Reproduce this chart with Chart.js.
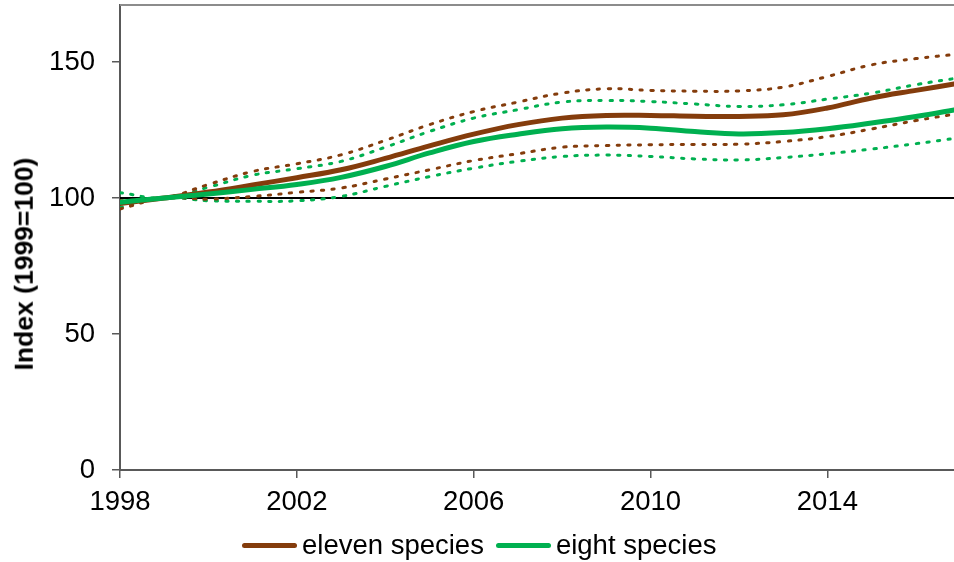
<!DOCTYPE html>
<html>
<head>
<meta charset="utf-8">
<script src="https://cdn.jsdelivr.net/npm/chart.js@4.4.1/dist/chart.umd.min.js"></script>
<style>
  html, body { margin: 0; padding: 0; background: #fff; overflow: hidden; width: 954px; height: 562px; }
  #wrap { position: relative; width: 960px; height: 562px; }
  canvas { display: block; }
  #ytitle {
    position: absolute; left: 24px; top: 264px;
    transform: translate(-50%, -50%) rotate(-90deg);
    font: bold 26.5px "Liberation Sans", Arial, sans-serif;
    line-height: 1; white-space: nowrap; color: #000;
  }
  #legend {
    position: absolute; left: 242px; top: 530px; height: 30px;
    display: flex; align-items: center;
    font: 27.5px "Liberation Sans", Arial, sans-serif; color: #000; line-height: 1;
  }
  #legend .item { display: flex; align-items: center; margin-right: 12px; }
  #legend .swatch { display: inline-block; width: 55px; height: 5px; border-radius: 2.5px; margin-right: 5px; }
</style>
</head>
<body>
<div id="wrap">
  <canvas id="chart" width="960" height="562"></canvas>
  <div id="ytitle"></div>
  <div id="legend"></div>
</div>
<script>
// Annual index values, 1999 = 100
const years = [1998, 1999, 2000, 2001, 2002, 2003, 2004, 2005, 2006, 2007,
               2008, 2009, 2010, 2011, 2012, 2013, 2014, 2015, 2016, 2017];

const elevenIndex = [98.0, 100, 102.2, 104.8, 107.5, 110.4, 114.6, 119.2, 123.5, 127.0,
                     129.4, 130.4, 130.4, 130.1, 130.0, 130.6, 133.1, 136.8, 139.6, 142.3];
const elevenUpper = [99.0, 100, 105.0, 109.8, 112.6, 115.9, 121.2, 127.0, 131.8, 135.3,
                     138.6, 140.2, 139.6, 139.3, 139.4, 140.8, 144.7, 149.0, 151.3, 153.0];
const elevenLower = [96.0, 100, 99.6, 100.6, 102.1, 103.7, 107.0, 110.4, 113.8, 116.3,
                     118.7, 119.3, 119.6, 119.7, 119.8, 120.8, 122.6, 125.4, 128.5, 131.2];

const eightIndex = [98.5, 100, 101.5, 103.2, 105.0, 107.6, 111.6, 116.6, 120.8, 123.5,
                    125.5, 126.1, 125.7, 124.5, 123.6, 124.1, 125.5, 127.6, 130.0, 132.8];
const eightUpper = [102.0, 100, 104.0, 108.4, 110.8, 113.5, 118.7, 124.5, 129.4, 132.5,
                    135.3, 135.9, 135.5, 134.6, 133.7, 134.3, 136.4, 138.6, 141.7, 144.3];
const eightLower = [96.5, 100, 99.0, 98.8, 99.0, 100.6, 104.3, 107.9, 111.0, 113.5,
                    115.3, 115.8, 115.3, 114.4, 114.0, 114.9, 116.3, 118.0, 120.0, 122.2];

const baseYear = 100;

const xTicks = [1998, 2002, 2006, 2010, 2014];
const yTicks = [0, 50, 100, 150];

const seriesNames = ['eleven species', 'eight species'];
const yTitle = 'Index (1999=100)';

const BROWN = '#843C0C';
const GREEN = '#00B050';
const FONT = '"Liberation Sans", Arial, sans-serif';

const pts = vals => years.map((y, i) => ({ x: y, y: vals[i] }));

const mainLine = (label, vals, color) => ({
  label, data: pts(vals), borderColor: color, backgroundColor: color,
  borderWidth: 5, tension: 0.4, borderCapStyle: 'round', borderJoinStyle: 'round',
  pointRadius: 0, fill: false
});
const boundLine = (label, vals, color) => ({
  label, data: pts(vals), borderColor: color, backgroundColor: color,
  borderWidth: 3, borderDash: [2.3, 8.4], borderCapStyle: 'round',
  tension: 0.4, pointRadius: 0, fill: false
});

const elevenDs = mainLine(seriesNames[0], elevenIndex, BROWN);
const eightDs = mainLine(seriesNames[1], eightIndex, GREEN);

const datasets = [
  eightDs,
  elevenDs,
  boundLine('eleven upper', elevenUpper, BROWN),
  boundLine('eleven lower', elevenLower, BROWN),
  boundLine('eight upper', eightUpper, GREEN),
  boundLine('eight lower', eightLower, GREEN),
  {
    label: 'base', data: pts(years.map(() => baseYear)),
    borderColor: '#000', borderWidth: 2, tension: 0, pointRadius: 0, fill: false
  }
];

// top edge of the plot frame
const frameTop = {
  id: 'frameTop',
  beforeDatasetsDraw(c) {
    const { ctx, chartArea: a } = c;
    ctx.save();
    ctx.strokeStyle = '#8C8C8C';
    ctx.lineWidth = 2;
    ctx.beginPath();
    ctx.moveTo(a.left, a.top);
    ctx.lineTo(a.right, a.top);
    ctx.stroke();
    ctx.restore();
  }
};

const axisStyle = {
  grid: { drawOnChartArea: false, drawTicks: true, tickLength: 8, color: '#595959', lineWidth: 1.5 },
  border: { color: '#595959', width: 2 }
};

const chart = new Chart(document.getElementById('chart').getContext('2d'), {
  type: 'line',
  data: { datasets },
  options: {
    responsive: false,
    animation: false,
    layout: { padding: { top: 5, right: 0, bottom: 0, left: 0 } },
    plugins: { legend: { display: false }, tooltip: { enabled: false } },
    scales: {
      x: {
        type: 'linear', min: 1998, max: 2017,
        afterBuildTicks: s => { s.ticks = xTicks.map(v => ({ value: v })); },
        afterFit: s => { s.height = 92; s.paddingLeft = 0; s.paddingRight = 0; },
        ticks: {
          callback: v => String(v), autoSkip: false, maxRotation: 0,
          color: '#000', padding: 8, font: { family: FONT, size: 27.5 }
        },
        ...axisStyle
      },
      y: {
        min: 0, max: 171,
        afterBuildTicks: s => { s.ticks = yTicks.map(v => ({ value: v })); },
        afterFit: s => { s.width = 120; s.paddingTop = 0; s.paddingBottom = 0; },
        ticks: { color: '#000', padding: 17, font: { family: FONT, size: 27.5 } },
        ...axisStyle
      }
    }
  },
  plugins: [frameTop]
});

// axis title and legend
document.getElementById('ytitle').textContent = yTitle;
const legend = document.getElementById('legend');
[elevenDs, eightDs].forEach(ds => {
  const item = document.createElement('div');
  item.className = 'item';
  const sw = document.createElement('span');
  sw.className = 'swatch';
  sw.style.background = ds.borderColor;
  const tx = document.createElement('span');
  tx.textContent = ds.label;
  item.appendChild(sw);
  item.appendChild(tx);
  legend.appendChild(item);
});
</script>
</body>
</html>
